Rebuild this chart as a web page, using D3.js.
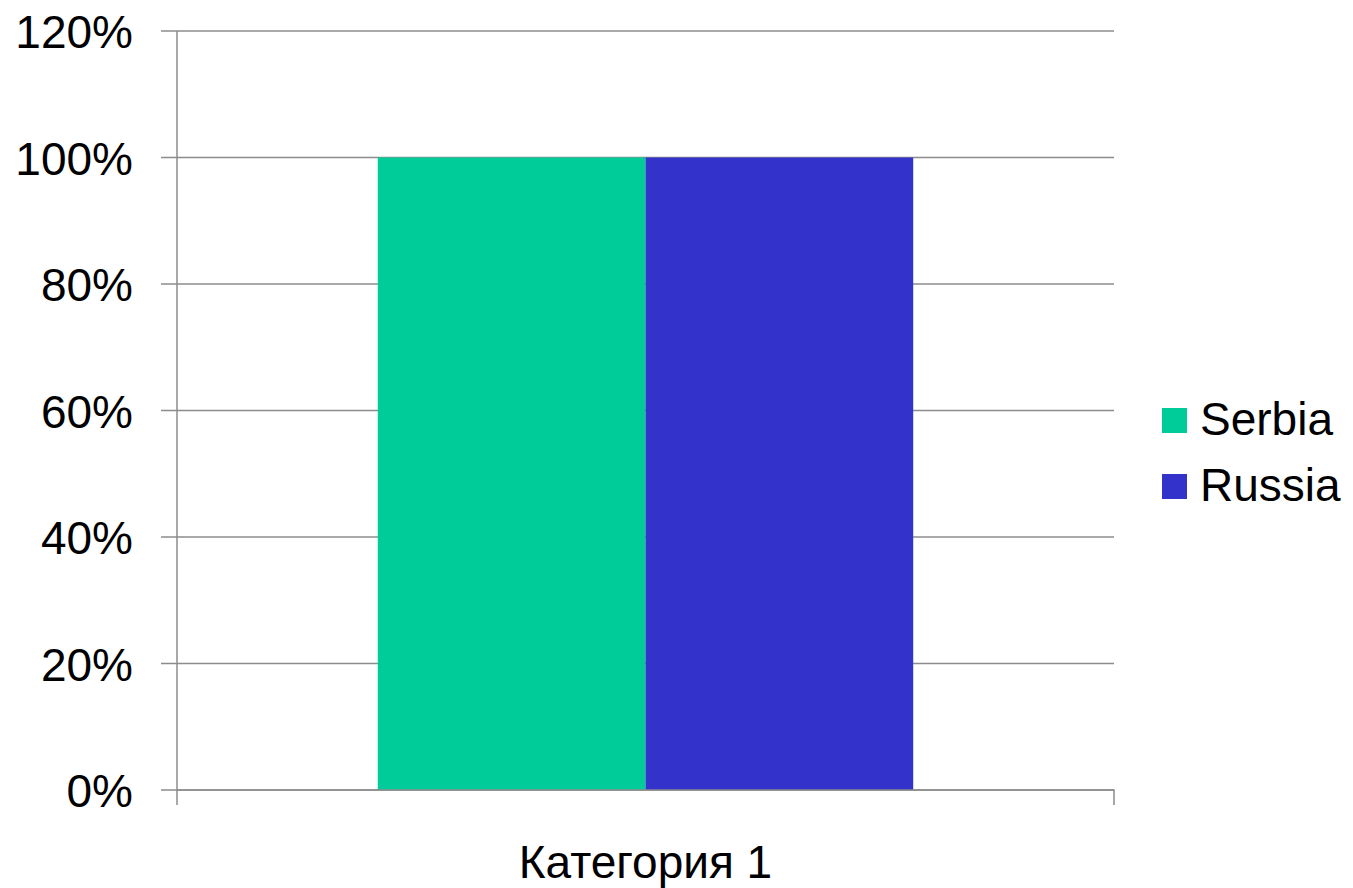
<!DOCTYPE html>
<html><head><meta charset="utf-8">
<script src="https://cdn.jsdelivr.net/npm/d3@7"></script>
<style>body{margin:0;background:#fff}svg{display:block}text{font-family:"Liberation Sans",Arial,sans-serif;fill:#000}</style>
</head><body>
<svg id="c" width="1353" height="888"></svg>
<script>
const categories = ["Категория 1"];
const seriesNames = ["Serbia", "Russia"];
const seriesValues = [[1.0], [1.0]];
const seriesColors = ["#00CC99", "#3333CC"];
const yTicks = [0, 0.2, 0.4, 0.6, 0.8, 1.0, 1.2];

(function () {
const svg = d3.select("#c");
const pL = 177, pR = 1114, pT = 31, pB = 790;

const y = d3.scaleLinear().domain([0, 1.2]).range([pB, pT]);
const x0 = d3.scaleBand().domain(categories).range([pL, pR]).paddingInner(0).paddingOuter(0);
const groupW = x0.bandwidth() / 1.75;
const x1 = d3.scaleBand().domain(seriesNames).range([0, groupW]).padding(0);

// gridlines
svg.append("g").selectAll("line").data(yTicks).join("line")
  .attr("x1", pL - 16).attr("x2", pR)
  .attr("y1", d => y(d)).attr("y2", d => y(d))
  .attr("stroke", "#8c8c8c").attr("stroke-width", 1.3);

// y axis
const yAxis = d3.axisLeft(y).tickValues(yTicks).tickFormat(d3.format(".0%")).tickSize(0).tickPadding(44);
const gy = svg.append("g").attr("transform", `translate(${pL},0)`).call(yAxis);
gy.select(".domain").attr("stroke", "#8c8c8c").attr("stroke-width", 1.5).attr("d", `M0,${pT}V${pB + 15}`);
gy.selectAll("text").attr("font-size", 46).attr("font-family", '"Liberation Sans",Arial,sans-serif').attr("fill", "#000").attr("dy", "0.36em");

// bars
const groups = svg.append("g").selectAll("g").data(categories).join("g")
  .attr("transform", c => `translate(${x0(c) + (x0.bandwidth() - groupW) / 2},0)`);
groups.selectAll("rect").data((c, ci) => seriesNames.map((s, si) => ({s, si, v: seriesValues[si][ci]}))).join("rect")
  .attr("x", d => x1(d.s)).attr("width", x1.bandwidth())
  .attr("y", d => y(d.v)).attr("height", d => y(0) - y(d.v))
  .attr("fill", d => seriesColors[d.si]);

// x axis
const xAxis = d3.axisBottom(x0).tickSize(0).tickPadding(0);
const gx = svg.append("g").attr("transform", `translate(0,${pB})`).call(xAxis);
gx.select(".domain").attr("stroke", "#8c8c8c").attr("stroke-width", 1.5).attr("d", `M${pL},0H${pR}V15`);
gx.selectAll("text").attr("font-size", 46).attr("font-family", '"Liberation Sans",Arial,sans-serif').attr("fill", "#000")
  .attr("dy", null).attr("y", 88);

// legend
const lg = svg.append("g").selectAll("g").data(seriesNames).join("g")
  .attr("transform", (d, i) => `translate(1162,${408 + i * 66})`);
lg.append("rect").attr("width", 25).attr("height", 25).attr("fill", (d, i) => seriesColors[i]);
lg.append("text").attr("x", 38).attr("y", 27).attr("font-size", 46).text(d => d);
})();
</script>
</body></html>
